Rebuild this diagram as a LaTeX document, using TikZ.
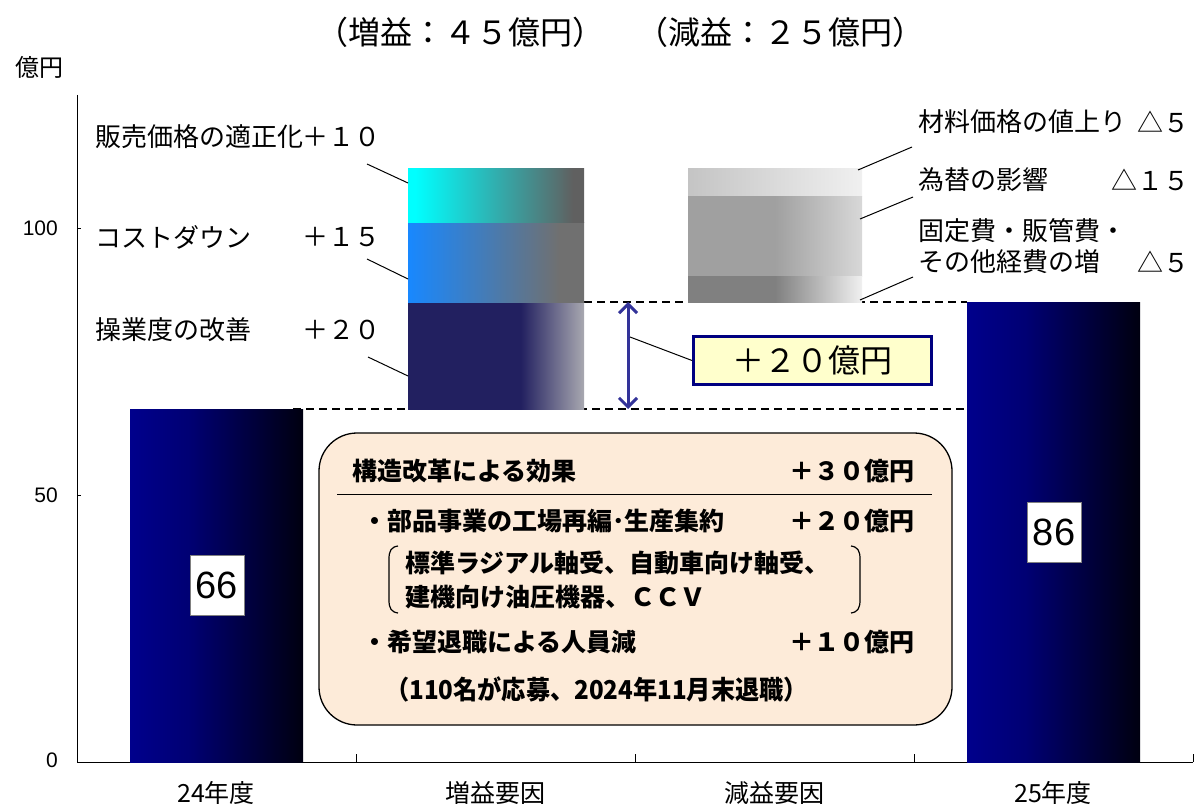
\documentclass[tikz,border=0pt]{standalone}
\usepackage{fontspec}
\setmainfont{Noto Sans CJK JP}
\newfontfamily\arialf{Liberation Sans}
\usetikzlibrary{arrows.meta}
\newcommand\jfs[1]{\fontsize{#1}{#1}\selectfont}

\definecolor{barnavy}{RGB}{0,0,140}
\definecolor{barblack}{RGB}{0,0,16}
\definecolor{opnavy}{RGB}{34,32,96}
\definecolor{opgray}{RGB}{168,168,176}
\definecolor{cdblue}{RGB}{24,136,255}
\definecolor{cdgray}{RGB}{112,112,112}
\definecolor{spcyan}{RGB}{0,255,255}
\definecolor{spgray}{RGB}{96,96,96}
\definecolor{mlA}{RGB}{196,196,196}
\definecolor{mlB}{RGB}{240,240,240}
\definecolor{fxA}{RGB}{160,160,160}
\definecolor{fxB}{RGB}{216,216,216}
\definecolor{fcA}{RGB}{128,128,128}
\definecolor{fcB}{RGB}{240,240,240}
\definecolor{arrowblue}{RGB}{51,51,153}
\definecolor{calloutfill}{RGB}{255,255,204}
\definecolor{calloutedge}{RGB}{0,0,128}
\definecolor{infofill}{RGB}{253,235,217}

\pgfdeclarehorizontalshading{yearbar}{100bp}{color(0bp)=(barnavy); color(25bp)=(barnavy); color(42bp)=(barnavy!80!barblack); color(75bp)=(barblack); color(100bp)=(barblack)}
\pgfdeclarehorizontalshading{opbar}{100bp}{color(0bp)=(opnavy); color(25bp)=(opnavy); color(57bp)=(opnavy); color(75bp)=(opgray); color(100bp)=(opgray)}
\pgfdeclarehorizontalshading{cdbar}{100bp}{color(0bp)=(cdblue); color(25bp)=(cdblue); color(68bp)=(cdgray); color(100bp)=(cdgray)}
\pgfdeclarehorizontalshading{spbar}{100bp}{color(0bp)=(spcyan); color(27bp)=(spcyan); color(72bp)=(spgray); color(100bp)=(spgray)}
\pgfdeclarehorizontalshading{mlbar}{100bp}{color(0bp)=(mlA); color(25bp)=(mlA); color(75bp)=(mlB); color(100bp)=(mlB)}
\pgfdeclarehorizontalshading{fxbar}{100bp}{color(0bp)=(fxA); color(25bp)=(fxA); color(50bp)=(fxA); color(75bp)=(fxB); color(100bp)=(fxB)}
\pgfdeclarehorizontalshading{fcbar}{100bp}{color(0bp)=(fcA); color(25bp)=(fcA); color(50bp)=(fcA); color(75bp)=(fcB); color(100bp)=(fcB)}

\tikzset{
  txt/.style={inner sep=0pt, font=\jfs{26}},
  boldtxt/.style={inner sep=0pt, font=\jfs{25}\bfseries},
  leader/.style={line width=1pt},
  guide/.style={line width=1.5pt, dash pattern=on 8pt off 5pt},
  valbox/.style={draw=black!50, fill=white, line width=0.8pt, inner sep=0pt, minimum width=54pt, minimum height=60pt, font=\arialf\jfs{38}},
  ticklab/.style={inner sep=0pt, anchor=east, font=\arialf\jfs{21}},
  catlab/.style={inner sep=0pt, font=\jfs{25}},
}

\begin{document}
\begin{tikzpicture}[x=1pt,y=-1pt]
\useasboundingbox[fill=white] (0,0) rectangle (1198,805);

% title and unit
\node[inner sep=0pt, font=\jfs{32}] (title) at (620,32) {（増益：４５億円）　（減益：２５億円）};
\node[inner sep=0pt, font=\jfs{24}] (unit) at (39,67) {億円};

% guide lines
\draw[guide] (293,409) -- (967,409);
\draw[guide] (584,302) -- (967,302);

% axes
\draw[line width=1pt] (77,95) -- (77,762) -- (1193,762);
\foreach \yy in {228,495} \draw[line width=1pt] (77,\yy) -- (81,\yy);
\foreach \xx in {356,635,914,1193} \draw[line width=1pt] (\xx,754) -- (\xx,762);
\node[ticklab] (t100) at (58,228) {100};
\node[ticklab] (t50) at (58,495) {50};
\node[ticklab] (t0) at (58,760) {0};

% category labels
\node[catlab] (c1) at (216,793) {24年度};
\node[catlab] (c2) at (495,793) {増益要因};
\node[catlab] (c3) at (774,793) {減益要因};
\node[catlab] (c4) at (1053,793) {25年度};

% year bars
\path[shading=yearbar] (130,409) rectangle (303,762);
\path[shading=yearbar] (967,302) rectangle (1140,762);
\node[valbox] (v66) at (217,585) {66};
\node[valbox] (v86) at (1054,532) {86};

% increase bars
\path[shading=opbar] (408,302) rectangle (584,409);
\path[shading=cdbar] (408,222) rectangle (584,302);
\path[shading=spbar] (408,169) rectangle (584,222);

% decrease bars
\path[shading=mlbar] (688,169) rectangle (862,196);
\path[shading=fxbar] (688,196) rectangle (862,276);
\path[shading=fcbar] (688,276) rectangle (862,302);

% left labels
\node[txt, anchor=west] (sp) at (95,137) {販売価格の適正化};
\node[txt, anchor=east] (spv) at (381,137) {＋１０};
\node[txt, anchor=west] (cd) at (95,237) {コストダウン};
\node[txt, anchor=east] (cdv) at (381,237) {＋１５};
\node[txt, anchor=west] (op) at (95,330) {操業度の改善};
\node[txt, anchor=east] (opv) at (381,330) {＋２０};
\coordinate (sp1) at (367,164); \coordinate (sp2) at (408,183);
\coordinate (cd1) at (367,259); \coordinate (cd2) at (408,279);
\coordinate (op1) at (368,357); \coordinate (op2) at (408,376);
\draw[leader] (sp1) -- (sp2);
\draw[leader] (cd1) -- (cd2);
\draw[leader] (op1) -- (op2);

% right labels
\node[txt, anchor=west] (ml) at (918,122) {材料価格の値上り};
\node[txt, anchor=east] (mlv) at (1190,122) {△５};
\node[txt, anchor=west] (fx) at (918,180) {為替の影響};
\node[txt, anchor=east] (fxv) at (1190,180) {△１５};
\node[txt, anchor=west] (fc) at (918,231) {固定費・販管費・};
\node[txt, anchor=west] (fc2) at (918,262) {その他経費の増};
\node[txt, anchor=east] (fcv) at (1190,262) {△５};
\coordinate (ml1) at (858,170); \coordinate (ml2) at (912,147);
\coordinate (fx1) at (860,219); \coordinate (fx2) at (913,197);
\coordinate (fc1) at (860,300); \coordinate (fc2p) at (913,277);
\draw[leader] (ml1) -- (ml2);
\draw[leader] (fx1) -- (fx2);
\draw[leader] (fc1) -- (fc2p);

% double arrow and callout
\coordinate (atop) at (628,302); \coordinate (abot) at (628,409);
\draw[arrowblue, line width=3pt, {Straight Barb[length=9pt,width=18pt,line width=3pt]}-{Straight Barb[length=9pt,width=18pt,line width=3pt]}] (atop) -- (abot);
\node[draw=calloutedge, fill=calloutfill, line width=3pt, minimum width=238pt, minimum height=48pt, inner sep=0pt, font=\jfs{32}] (gain) at (812.5,360.5) {＋２０億円};
\coordinate (gl) at (630,337);
\draw[leader] (gl) -- (gain.west);

% info box
\node[draw, fill=infofill, line width=1.3pt, rounded corners=38pt, minimum width=633pt, minimum height=292pt, inner sep=0pt] (info) at (635.5,579) {};
\draw[line width=1pt] (337,494) -- (932,494);
\node[boldtxt, anchor=west] (i1) at (352,471) {構造改革による効果};
\node[boldtxt, anchor=east] (i1v) at (915,471) {＋３０億円};
\node[boldtxt, anchor=west] (i2) at (362,521) {・部品事業の工場再編･生産集約};
\node[boldtxt, anchor=east] (i2v) at (915,521) {＋２０億円};
\node[boldtxt, anchor=west] (i3) at (405,563) {標準ラジアル軸受、自動車向け軸受、};
\node[boldtxt, anchor=west] (i4) at (405,597) {建機向け油圧機器、ＣＣＶ};
\node[boldtxt, anchor=west] (i5) at (362,642) {・希望退職による人員減};
\node[boldtxt, anchor=east] (i5v) at (915,642) {＋１０億円};
\node[inner sep=0pt, anchor=west, font=\jfs{26}\bfseries] (i6) at (385,689) {\scalebox{0.93}[1]{（110名が応募、2024年11月末退職）}};
\draw[line width=1.2pt] (398,546) .. controls (391,547) and (389,551) .. (389,559) -- (389,600) .. controls (389,608) and (391,612) .. (398,613);
\draw[line width=1.2pt] (851,546) .. controls (858,547) and (860,551) .. (860,559) -- (860,600) .. controls (860,608) and (858,612) .. (851,613);
\end{tikzpicture}
\end{document}
